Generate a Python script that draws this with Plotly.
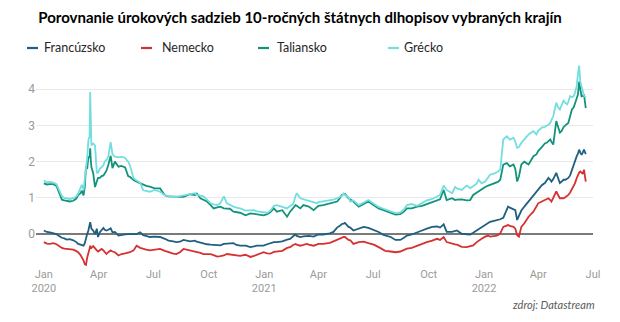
import plotly.graph_objects as go

dates = [
 "2020-01-01","2020-01-06","2020-01-11","2020-01-17","2020-01-22","2020-01-25","2020-01-28","2020-01-31",
 "2020-02-04","2020-02-08","2020-02-13","2020-02-19","2020-02-24","2020-02-27","2020-03-02","2020-03-04",
 "2020-03-07","2020-03-09","2020-03-11","2020-03-13","2020-03-15","2020-03-17","2020-03-18","2020-03-19",
 "2020-03-20","2020-03-23","2020-03-26","2020-03-29","2020-03-31","2020-04-03","2020-04-06","2020-04-09",
 "2020-04-11","2020-04-14","2020-04-17","2020-04-21","2020-04-24","2020-04-28","2020-05-04","2020-05-09",
 "2020-05-15","2020-05-20","2020-05-23","2020-05-29","2020-06-03","2020-06-09","2020-06-14","2020-06-19",
 "2020-06-25","2020-07-03","2020-07-12","2020-07-20","2020-07-26","2020-08-03","2020-08-08","2020-08-14",
 "2020-08-20","2020-08-31","2020-09-08",
 "2020-09-11","2020-09-17","2020-09-22","2020-09-28","2020-10-04","2020-10-09","2020-10-15","2020-10-20",
 "2020-10-26","2020-10-31","2020-11-05","2020-11-11","2020-11-16","2020-11-22","2020-12-01","2020-12-09",
 "2020-12-15","2020-12-20","2020-12-26","2020-12-31","2021-01-06","2021-01-11","2021-01-17","2021-01-22",
 "2021-01-31","2021-02-08","2021-02-13","2021-02-18","2021-02-22","2021-02-24","2021-03-02","2021-03-07",
 "2021-03-13","2021-03-16","2021-03-24","2021-03-29","2021-04-01","2021-04-09","2021-04-20","2021-04-26",
 "2021-05-02","2021-05-06","2021-05-10","2021-05-13",
 "2021-05-15","2021-05-21","2021-05-24","2021-05-29","2021-06-07","2021-06-15","2021-06-23","2021-07-02",
 "2021-07-10","2021-07-18","2021-07-21","2021-07-30","2021-08-07","2021-08-15","2021-08-21","2021-08-26",
 "2021-09-03","2021-09-12","2021-09-20","2021-09-28","2021-10-07","2021-10-15","2021-10-20","2021-10-26",
 "2021-10-31","2021-11-09","2021-11-14","2021-11-17","2021-11-25","2021-12-03","2021-12-09","2021-12-14",
 "2021-12-20","2021-12-23","2021-12-28","2022-01-03","2022-01-08","2022-01-11","2022-01-16","2022-01-20",
 "2022-01-24","2022-01-28","2022-02-02","2022-02-08","2022-02-10","2022-02-13","2022-02-19","2022-02-22",
 "2022-02-25","2022-02-28","2022-03-04","2022-03-09","2022-03-16","2022-03-24","2022-03-29","2022-04-01",
 "2022-04-07","2022-04-12","2022-04-15","2022-04-18","2022-04-21","2022-04-23","2022-04-26","2022-05-01",
 "2022-05-04","2022-05-07","2022-05-10","2022-05-13","2022-05-16","2022-05-19","2022-05-21","2022-05-24",
 "2022-05-27","2022-05-30","2022-06-01","2022-06-04","2022-06-06","2022-06-08","2022-06-10","2022-06-12",
 "2022-06-14","2022-06-16","2022-06-19",
]

france = [
 0.10,0.06,0.05,0.03,0.00,-0.04,-0.08,-0.10,
 -0.12,-0.15,-0.14,-0.17,-0.22,-0.27,-0.29,-0.30,
 -0.32,-0.25,-0.10,0.00,0.10,0.25,0.33,0.25,
 0.15,0.10,0.00,0.15,-0.08,0.05,0.10,0.17,
 0.12,0.10,0.12,0.16,0.05,0.06,-0.04,-0.02,
 -0.01,0.00,0.00,-0.01,0.00,0.05,-0.03,-0.05,
 -0.08,-0.07,-0.08,-0.13,-0.18,-0.20,-0.22,-0.21,
 -0.16,-0.20,-0.18,
 -0.21,-0.24,-0.27,-0.28,-0.29,-0.30,-0.32,-0.31,
 -0.27,-0.26,-0.27,-0.25,-0.30,-0.32,-0.32,-0.36,
 -0.34,-0.32,-0.32,-0.32,-0.28,-0.25,-0.22,-0.22,
 -0.20,-0.15,-0.13,-0.06,-0.01,-0.05,-0.08,-0.06,
 -0.04,-0.05,-0.07,-0.04,-0.01,-0.01,0.02,0.06,
 0.18,0.22,0.28,0.29,
 0.31,0.20,0.18,0.10,0.15,0.20,0.17,0.12,
 0.06,-0.02,-0.04,-0.08,-0.16,-0.16,-0.10,-0.04,
 -0.01,0.06,0.10,0.15,0.20,0.21,0.18,0.27,
 0.06,0.06,0.08,0.10,0.01,-0.01,-0.01,0.04,
 0.10,0.14,0.20,0.26,0.30,0.34,0.36,0.37,
 0.39,0.41,0.45,0.70,0.76,0.73,0.68,0.66,
 0.39,0.50,0.65,0.76,0.90,1.05,1.15,1.22,
 1.35,1.41,1.47,1.55,1.50,1.45,1.52,1.69,
 1.55,1.41,1.45,1.50,1.50,1.52,1.55,1.62,
 1.78,1.95,2.05,2.15,2.22,2.33,2.25,2.19,
 2.25,2.33,2.21,
]

germany = [
 -0.22,-0.26,-0.27,-0.25,-0.28,-0.32,-0.36,-0.38,
 -0.40,-0.41,-0.42,-0.43,-0.47,-0.50,-0.58,-0.63,
 -0.73,-0.83,-0.85,-0.65,-0.55,-0.40,-0.32,-0.40,
 -0.38,-0.33,-0.40,-0.45,-0.48,-0.44,-0.41,-0.45,
 -0.50,-0.55,-0.50,-0.45,-0.48,-0.50,-0.59,-0.55,
 -0.53,-0.51,-0.50,-0.45,-0.32,-0.38,-0.41,-0.43,
 -0.45,-0.43,-0.41,-0.46,-0.50,-0.54,-0.55,-0.50,
 -0.41,-0.45,-0.47,
 -0.50,-0.52,-0.55,-0.55,-0.55,-0.58,-0.62,-0.61,
 -0.59,-0.55,-0.56,-0.57,-0.59,-0.60,-0.57,-0.63,
 -0.60,-0.57,-0.52,-0.50,-0.53,-0.54,-0.49,-0.48,
 -0.46,-0.38,-0.36,-0.30,-0.27,-0.29,-0.32,-0.30,
 -0.27,-0.29,-0.32,-0.29,-0.27,-0.27,-0.24,-0.20,
 -0.16,-0.13,-0.09,-0.08,
 -0.08,-0.16,-0.17,-0.27,-0.22,-0.21,-0.25,-0.29,
 -0.36,-0.44,-0.46,-0.48,-0.50,-0.48,-0.43,-0.40,
 -0.38,-0.32,-0.27,-0.22,-0.18,-0.13,-0.16,-0.08,
 -0.22,-0.27,-0.28,-0.29,-0.35,-0.36,-0.34,-0.31,
 -0.22,-0.18,-0.13,-0.07,-0.04,-0.07,-0.07,-0.05,
 -0.03,0.02,0.20,0.24,0.25,0.23,0.20,0.15,
 -0.03,-0.07,0.20,0.30,0.48,0.62,0.75,0.85,
 0.90,0.94,0.96,0.99,0.94,0.90,1.00,1.18,
 1.08,0.99,0.99,0.99,1.02,1.05,1.08,1.15,
 1.25,1.31,1.40,1.55,1.64,1.70,1.73,1.68,
 1.66,1.78,1.45,
]

italy = [
 1.40,1.37,1.38,1.38,1.33,1.21,1.10,0.95,
 0.93,0.92,0.90,0.92,0.98,1.08,1.13,1.20,
 1.07,1.30,1.86,1.80,2.14,2.10,2.37,2.05,
 1.85,1.68,1.30,1.45,1.55,1.55,1.60,1.62,
 1.68,1.75,1.91,2.16,1.82,2.00,1.86,1.88,
 1.84,1.60,1.58,1.49,1.45,1.40,1.35,1.33,
 1.31,1.26,1.26,1.07,1.04,1.03,1.02,1.03,
 1.03,1.10,1.08,
 1.12,0.99,0.95,0.90,0.80,0.71,0.74,0.76,
 0.71,0.71,0.70,0.62,0.60,0.59,0.52,0.57,
 0.56,0.55,0.53,0.52,0.55,0.60,0.71,0.62,
 0.66,0.48,0.62,0.72,0.80,0.78,0.71,0.80,
 0.78,0.76,0.66,0.72,0.78,0.80,0.85,0.87,
 0.90,0.98,1.08,1.10,
 1.11,0.99,0.96,0.90,0.76,0.83,0.90,0.80,
 0.71,0.66,0.64,0.59,0.54,0.55,0.62,0.71,
 0.71,0.76,0.78,0.83,0.88,0.92,0.96,1.22,
 0.94,0.99,0.94,0.95,0.96,0.93,0.94,1.08,
 1.15,1.18,1.24,1.30,1.34,1.36,1.38,1.40,
 1.44,1.50,1.92,1.96,1.93,1.87,1.92,1.80,
 1.45,1.59,1.92,2.00,1.92,2.15,2.20,2.29,
 2.40,2.50,2.52,2.57,2.61,2.55,2.47,3.12,
 2.98,2.80,2.85,2.95,3.00,3.03,3.07,3.25,
 3.44,3.50,3.58,3.75,3.85,4.21,4.00,3.80,
 3.81,3.86,3.48,
]

greece = [
 1.48,1.43,1.44,1.42,1.38,1.28,1.18,1.05,
 1.00,0.98,0.97,0.99,1.04,1.12,1.25,1.36,
 1.22,1.50,1.95,2.10,2.60,2.70,3.92,2.90,
 2.45,2.50,2.45,1.70,1.70,1.80,1.86,1.90,
 2.00,2.05,2.14,2.54,2.20,2.14,2.12,2.14,
 2.10,2.00,1.90,1.54,1.48,1.42,1.21,1.20,
 1.17,1.22,1.17,1.07,1.05,1.03,1.03,1.05,
 1.07,1.12,1.13,
 1.08,1.06,1.04,0.95,0.85,0.82,0.80,0.85,
 1.04,0.85,0.80,0.76,0.73,0.71,0.65,0.66,
 0.66,0.63,0.62,0.60,0.59,0.64,0.78,0.80,
 0.76,0.71,0.78,0.82,1.05,1.13,0.99,0.96,
 0.94,0.92,0.88,0.85,0.88,0.90,0.92,0.95,
 0.99,1.02,1.05,1.12,
 1.08,1.02,0.90,0.93,0.80,0.87,0.94,0.84,
 0.75,0.70,0.68,0.63,0.58,0.60,0.68,0.80,
 0.83,0.78,0.85,0.93,0.97,1.03,1.08,1.34,
 1.22,1.13,1.30,1.26,1.22,1.34,1.27,1.32,
 1.40,1.50,1.40,1.45,1.58,1.64,1.66,1.69,
 1.72,1.78,2.61,2.70,2.65,2.61,2.66,2.55,
 2.38,2.40,2.52,2.61,2.75,2.84,2.75,2.85,
 2.94,2.96,2.98,3.02,3.07,3.15,3.26,3.63,
 3.50,3.44,3.55,3.68,3.62,3.58,3.65,3.81,
 3.78,3.81,3.90,4.09,4.42,4.65,4.20,4.02,
 3.95,3.82,3.78,
]

series_names = ["Francúzsko", "Nemecko", "Taliansko", "Grécko"]
series_values = [france, germany, italy, greece]
series_colors = ["#1f5f80", "#d63030", "#12937a", "#74dde0"]

tick_vals = ["2020-01-01","2020-04-01","2020-07-01","2020-10-01","2021-01-01","2021-04-01",
             "2021-07-01","2021-10-01","2022-01-01","2022-04-01","2022-07-01"]
tick_text = ["Jan<br>2020","Apr","Jul","Oct","Jan<br>2021","Apr","Jul","Oct","Jan<br>2022","Apr","Jul"]

title_text = "Porovnanie úrokových sadzieb 10-ročných štátnych dlhopisov vybraných krajín"
source_text = "zdroj: Datastream"

W, H = 620, 322
ML, MR, MT, MB = 36, 27, 62, 56
PW, PH = W - ML - MR, H - MT - MB

fig = go.Figure()
for name, vals, col in zip(series_names, series_values, series_colors):
    fig.add_trace(go.Scatter(x=dates, y=vals, name=name, mode="lines",
                             line=dict(color=col, width=1.8), showlegend=False))

def px_x(p):
    return (p - ML) / PW

def px_y(p):
    return (H - MB - p) / PH

# legend drawn as swatch + label
leg_line_x = [27, 141, 258, 388]
leg_text_x = [42, 160, 275, 402]
leg_y = 47
for name, col, lx, tx in zip(series_names, series_colors, leg_line_x, leg_text_x):
    fig.add_shape(type="line", xref="paper", yref="paper",
                  x0=px_x(lx), x1=px_x(lx + 11), y0=px_y(leg_y + 1), y1=px_y(leg_y + 1),
                  line=dict(color=col, width=2.2))
    fig.add_annotation(text=name, xref="paper", yref="paper", x=px_x(tx), y=px_y(leg_y),
                       xanchor="left", yanchor="middle", showarrow=False,
                       font=dict(family="Lato", size=12.5, color="#262626"))

fig.add_annotation(text="<i>" + source_text + "</i>", xref="paper", yref="paper",
                   x=px_x(597), y=px_y(304), xanchor="right", yanchor="middle",
                   showarrow=False, font=dict(family="Lato", size=11, color="#595959"))

fig.update_layout(
    width=W, height=H,
    margin=dict(l=ML, r=MR, t=MT, b=MB),
    paper_bgcolor="white", plot_bgcolor="white",
    title=dict(text="<b>" + title_text + "</b>", x=300 / W, xanchor="center",
               y=1 - 18 / H, yanchor="middle",
               font=dict(family="Lato", size=15, color="#000000")),
    xaxis=dict(range=["2019-12-19", "2022-07-01"], tickvals=tick_vals, ticktext=tick_text,
               showgrid=False, zeroline=False, showline=False, ticks="",
               tickfont=dict(family="Roboto", size=11, color="#9a9a9a")),
    yaxis=dict(range=[-0.88, 4.75], tickvals=[0, 1, 2, 3, 4], showgrid=True,
               gridcolor="#e8e8e8", gridwidth=1, zeroline=True, zerolinecolor="#7a7a7a",
               zerolinewidth=1.6, showline=False, ticks="",
               tickfont=dict(family="Roboto", size=12, color="#9a9a9a")),
)

fig.write_html("out.html")
